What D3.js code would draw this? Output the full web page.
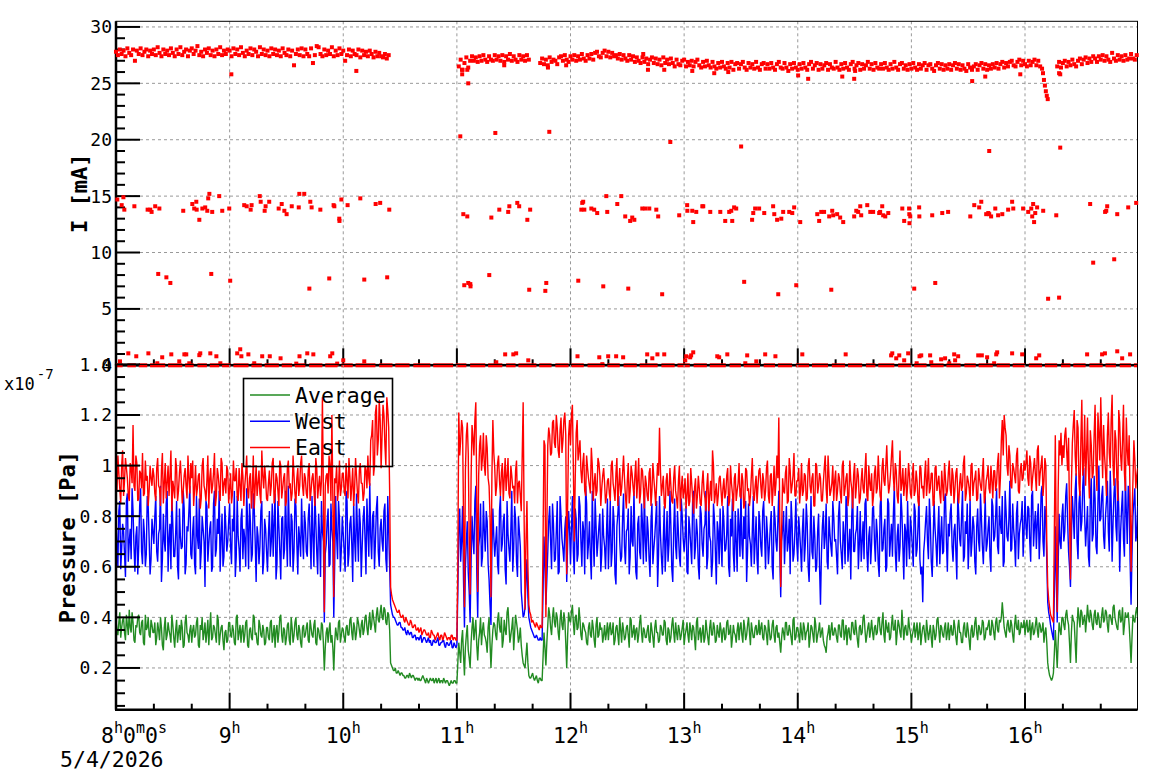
<!DOCTYPE html>
<html>
<head>
<meta charset="utf-8">
<script src="https://cdn.jsdelivr.net/npm/d3@7"></script>
<style>
  body { margin: 0; background: #fff; }
  svg { display: block; font-family: "DejaVu Sans Mono", monospace; }
</style>
</head>
<body>
<script>
// ---- data (time = minutes after 8h00, 5/4/2026) ----

// beam current I [mA], main band, one reading per minute, in tenths of mA
const bandAStart = 0;
const bandA = [
  278,275,280,276,279,274,281,277,275,280,270,279,276,281,275,278,280,274,279,276,
  280,275,282,277,274,280,276,279,275,281,277,274,280,276,282,275,278,280,274,279,
  281,276,279,283,275,278,274,280,277,281,275,279,274,280,276,282,275,279,276,280,
  279,274,281,276,280,275,282,277,274,279,276,281,275,280,278,274,282,276,280,275,
  279,274,281,276,280,275,279,274,281,277,275,280,274,279,266,276,280,275,281,274,
  280,276,274,281,268,275,283,282,276,274,280,275,279,276,282,274,279,275,281,276,
  279,270,275,280,274,279,276,275,280,273,279,275,278,274,279,276,273,278,274,277,
  274,273,276,272,275
];
const bandBStart = 181;
const bandB = [
  265,271,262,268,273,264,270,274,270,273,269,274,270,275,271,269,274,271,270,275,
  271,274,270,275,269,274,271,276,270,274,271,269,275,271,274,270,275,271
];
const bandCStart = 224;
const bandC = [
  268,272,267,271,266,273,269,271,270,267,273,274,270,275,271,269,274,271,275,270,
  274,271,276,272,270,275,272,276,271,277,278,274,273,277,279,274,278,273,277,274,
  275,272,276,271,275,272,270,275,271,274,269,273,270,268,273,269,272,267,271,273,
  268,272,267,271,266,273,268,271,267,272,268,265,271,267,266,270,271,265,269,266,
  270,265,269,271,266,264,269,265,270,266,264,269,265,263,268,264,269,265,263,268,
  264,269,262,267,268,263,267,269,264,262,268,264,267,263,269,264,262,267,268,263,
  267,263,268,264,262,267,269,264,263,268,264,261,267,263,268,264,262,267,263,268,
  264,262,267,269,263,266,268,262,267,263,266,268,262,267,264,263,269,264,262,267,
  263,268,264,262,267,269,263,266,268,262,267,263,266,269,263,267,262,268,264,263,
  267,263,268,264,262,267,263,269,264,262,267,268,263,266,262,267,263,268,264,262,
  267,263,266,268,262,266,267,263,261,266,268,263,267,262,266,263,267,262,266,268,
  263,267,262,266,263,261,267,264,262,265,267,262,266,268,263,267,262,266,263,267,
  264,268,263,267,269,264,268,265,269,270,266,265,269,271,266,270,267,265,270,266,
  269,271,266,270,265
];
const bandDStart = 497;
const bandD = [
  265,269,264,268,270,265,269,266,271,267,265,270,272,267,271,273,268,272,269,274,
  272,269,274,271,275,270,274,271,269,277,272,270,275,271,274,270,275,271,272,276,
  272,271,275
];
// the drop just before 16h15
const dropT = [489, 489.5, 490, 490.5, 491, 491.5, 492];
const dropI = [26.3, 25.9, 25.3, 24.8, 24.3, 23.9, 23.6];

// stray readings [minute, mA]
const strayPoints = [
  [0.7,14.7],[3.0,14.2],[3.9,14.9],[4.4,13.8],[9.7,14.1],[16.7,13.8],[18.1,13.8],[18.8,13.6],[20.7,14.1],[22.9,13.9],
  [35.5,13.7],[40.3,14.3],[41.3,13.9],[42.4,14.5],[42.6,13.8],[44.0,12.9],[45.6,13.9],[47.1,14.0],[48.2,13.7],[48.7,14.8],
  [49.3,15.2],[50.8,13.6],[54.5,15.0],[56.1,13.7],[59.8,13.9],[67.7,14.2],[69.0,14.1],[71.1,13.8],[71.6,14.2],[75.9,15.0],
  [76.4,14.5],[78.5,13.7],[79.0,14.1],[80.9,14.5],[85.9,13.9],[87.5,14.3],[88.9,13.7],[90.1,13.4],[92.8,14.1],[96.5,14.0],
  [96.8,15.2],[99.4,15.2],[102.6,14.5],[103.3,14.0],[107.9,13.8],[114.9,14.2],[115.3,14.1],[117.9,13.0],[118.0,12.8],[119.0,14.7],
  [122.3,14.2],[129.0,14.8],[137.1,14.3],[139.5,14.4],[144.3,13.8],[183.4,13.4],[185.5,13.2],[198.2,13.1],[202.4,13.8],[207.1,13.6],
  [207.7,14.1],[211.9,14.4],[212.9,14.1],[217.2,12.9],[218.7,13.8],[245.7,13.8],[246.2,14.4],[246.7,14.5],[247.3,13.8],[251.0,13.9],
  [252.5,13.8],[254.1,13.5],[258.9,15.0],[259.4,13.6],[264.7,14.3],[266.8,15.0],[268.9,13.2],[271.5,12.8],[272.6,13.1],[273.7,12.9],
  [277.9,13.9],[279.5,13.9],[281.6,13.9],[285.3,13.8],[286.3,13.2],[297.4,13.3],[301.6,14.2],[301.7,13.7],[304.3,13.7],[304.8,12.7],
  [306.4,13.6],[309.6,14.1],[310.1,14.1],[313.8,13.6],[319.1,13.6],[321.7,12.8],[323.8,13.6],[324.9,13.7],[325.4,12.8],[326.4,14.0],
  [327.5,13.9],[335.9,12.9],[336.5,13.5],[337.5,13.9],[339.6,13.9],[342.3,13.5],[347.0,14.1],[347.6,13.4],[349.1,12.9],[351.3,13.0],
  [352.3,13.6],[355.5,13.6],[357.1,13.5],[358.1,14.0],[361.3,12.7],[370.3,13.4],[371.3,12.8],[372.4,13.6],[373.9,13.6],[376.6,13.2],
  [378.2,13.7],[378.7,13.3],[380.8,13.4],[382.4,13.1],[384.0,12.7],[389.8,13.2],[390.9,13.7],[391.9,13.6],[393.0,14.1],[393.5,13.3],
  [396.7,14.2],[398.3,13.6],[399.8,13.6],[403.0,13.5],[403.5,13.6],[404.6,14.1],[405.1,13.3],[406.2,13.2],[407.8,13.5],[415.2,13.9],
  [416.2,12.8],[418.8,13.9],[418.9,13.4],[419.0,12.6],[419.4,13.2],[424.1,14.0],[424.2,13.2],[431.0,13.3],[436.3,13.5],[439.4,13.6],
  [451.1,13.2],[453.2,14.2],[455.8,14.0],[456.9,14.5],[459.5,13.4],[460.6,13.5],[461.1,13.4],[462.1,13.2],[464.3,13.9],[465.8,13.3],
  [468.0,13.4],[471.1,13.8],[473.2,14.5],[473.8,13.9],[479.0,13.9],[481.7,13.6],[483.3,13.9],[483.8,13.2],[484.3,14.3],[484.8,12.7],
  [485.4,13.5],[486.4,14.0],[489.6,13.7],[496.5,13.3],[514.4,14.3],[522.3,13.6],[522.9,13.7],[523.4,14.1],[528.7,13.4],[534.5,14.0],
  [538.7,14.4],
  [22.3,8.1],[26.6,7.8],[28.7,7.3],[50.3,8.1],[60.3,7.5],[102.1,6.8],[112.6,7.7],[131.1,7.6],[143.2,7.8],[183.9,7.1],
  [186.0,7.3],[187.1,7.2],[187.2,7.0],[197.1,8.0],[218.2,6.7],[226.7,6.6],[227.2,7.3],[244.1,7.5],[257.3,7.0],[270.5,6.8],
  [288.4,6.3],[331.7,7.4],[349.7,6.3],[359.2,7.1],[377.7,6.7],[421.5,6.8],[432.6,7.3],[492.2,5.9],[498.0,6.0],[516.0,9.1],
  [527.1,9.4],
  [181.8,20.3],[200.3,20.6],[228.8,20.7],[292.7,19.8],[330.1,19.4],[461.1,19.0],[498.6,19.3],
  [60.9,25.8],[126.9,26.1],[182.7,26.2],[182.8,25.8],[185.5,26.2],[186.0,25.0],[205.0,26.6],[228.1,26.4],[237.7,26.6],[278.4,27.6],
  [280.9,26.2],[289.5,26.2],[304.3,26.1],[315.9,25.9],[323.3,26.0],[360.2,25.7],[365.5,25.4],[383.5,25.6],[389.8,25.4],[390.3,26.1],
  [452.1,25.2],[459.0,25.6],[477.5,25.8],[498.0,25.9],[498.6,25.8]
];
const lowPoints = [
  [2.1,0.35],[6.5,1.06],[10.7,0.8],[17.1,1.06],[21.8,0.18],[24.4,0.71],[29.2,0.97],[33.4,0.35],[36.1,0.97],[37.1,0.97],
  [38.7,0.18],[44.0,0.9],[44.5,1.06],[49.8,1.06],[53.0,0.8],[55.1,0.18],[64.0,1.06],[65.6,1.42],[66.2,0.8],[69.9,0.97],
  [73.0,0.18],[77.2,0.8],[81.2,0.8],[86.9,0.62],[95.2,0.15],[96.9,0.8],[101.0,1.06],[104.2,0.97],[113.1,0.8],[114.2,1.06],
  [116.8,0.15],[120.0,0.44],[131.1,0.35],[200.8,0.27],[205.5,0.97],[209.8,0.97],[211.3,1.06],[217.7,0.44],[243.7,0.8],[255.2,0.71],
  [256.8,0.1],[259.9,0.8],[264.1,0.8],[267.8,0.71],[280.5,0.97],[283.2,0.62],[285.9,0.97],[289.5,0.97],[300.6,0.44],[301.1,0.8],
  [303.2,0.71],[303.7,0.88],[304.8,1.15],[317.5,0.8],[318.5,0.71],[322.8,0.97],[332.3,0.18],[333.3,0.88],[338.1,0.35],[342.8,0.97],
  [348.2,0.8],[362.4,0.97],[385.3,0.97],[409.3,0.88],[409.9,1.06],[412.0,0.62],[413.6,0.88],[416.2,0.44],[418.3,1.06],[422.8,0.18],
  [424.3,0.8],[425.2,0.88],[429.9,0.88],[430.5,0.27],[435.7,0.53],[437.8,0.62],[440.0,0.18],[442.6,0.97],[443.1,0.44],[444.7,0.8],
  [455.3,0.88],[457.2,0.88],[460.0,0.71],[463.7,0.18],[464.8,0.97],[465.3,1.15],[473.2,1.06],[478.5,0.97],[485.9,0.62],[487.5,0.88],
  [512.8,0.97],[520.7,0.97],[522.2,1.06],[528.7,1.24],[531.3,0.62],[535.5,0.97]
];
// stretches of zero readings [from, to] minutes
const zeroRuns = [
  [0,3.5],[6,10.5],[12,16.5],[18,26],[27.5,35],[36.5,41],[43,48],[49.5,54.5],[56,60.5],[62,70],[71.5,77],[78.5,86],
  [87.5,93],[94.5,100],[102,109],[110.5,117],[119,125],[126.5,137],[139,146],[147.5,155],[157,166],[167.5,178],[179.5,185],
  [187,195],[196.5,204],[206,211],[212.5,222],[223.5,230],[232,239],[240.5,247],[249,258],[259.5,266],[268,275],[276.5,286],
  [288,295],[296.5,303],[305,312],[313.5,322],[324,330],[331.5,340],[342,348],[349.5,357],[359,366],[367.5,376],[378,385],
  [386.5,394],[396,401],[402.5,411],[413,420],[421.5,428],[430,437],[438.5,446],[448,454],[455.5,463],[465,472],[473.5,480],
  [482,489],[490.5,497],[499,504],[505.5,512],[514,521],[522.5,528],[530,536],[537.5,539.4]
];

// pressure in units of 1e-9 Pa: readings on the minute ...
const east = [
  97,104,91,100,88,103,95,86,99,116,90,101,87,97,105,89,94,84,100,92,
  96,86,103,91,98,85,101,93,88,106,94,87,99,90,102,85,96,92,104,89,
  95,84,100,91,97,87,103,90,94,83,99,92,105,88,96,86,101,93,89,98,
  91,85,102,94,88,99,86,96,92,104,87,97,90,83,100,93,89,106,91,95,
  86,98,92,103,88,95,84,100,91,97,86,102,93,89,96,85,99,92,104,88,
  95,87,101,90,97,84,99,92,88,127,42,96,89,100,120,48,93,86,102,91,
  97,88,94,103,86,99,91,96,85,101,93,89,98,104,92,112,96,121,104,126,
  99,124,108,127,115,52,47,45,43,42,41,40,39,40,38,37,38,36,37,35,
  34,36,34,35,33,34,32,34,33,32,34,31,33,32,33,31,32,33,31,32,
  31,121,110,115,44,112,105,49,116,104,125,50,108,98,113,96,107,92,48,118,
  99,92,104,88,101,95,90,103,87,96,92,98,85,94,82,125,43,86,45,41,
  39,37,38,36,37,36,110,40,108,112,105,118,107,115,103,119,110,121,57,112,
  108,124,70,113,102,110,93,105,88,99,92,107,86,97,90,101,84,96,93,88,
  95,86,102,90,97,84,99,91,104,88,94,85,100,92,96,87,103,89,98,83,
  93,86,99,90,95,84,101,115,88,96,83,97,89,92,85,100,87,94,82,96,
  90,83,97,86,93,81,95,88,91,84,98,87,92,82,94,106,85,93,88,96,
  84,95,89,99,86,93,82,97,90,101,87,94,85,98,91,88,103,86,96,92,
  99,87,94,90,102,85,97,91,88,104,119,52,95,89,100,86,98,92,105,88,
  94,85,101,90,96,87,103,89,97,84,100,92,95,86,99,91,104,88,93,86,
  98,90,95,85,102,91,97,88,94,83,101,92,96,87,99,89,105,86,93,97,
  88,100,91,95,86,103,92,108,89,97,110,90,98,85,106,93,88,99,92,96,
  87,101,90,94,84,99,92,96,88,103,91,97,85,100,93,89,98,86,95,90,
  102,88,96,91,99,85,97,92,104,89,94,86,101,93,98,87,95,90,103,88,
  96,91,100,87,98,93,105,95,118,120,112,96,104,91,99,93,107,89,101,95,
  98,106,92,101,95,103,90,108,97,104,94,100,52,44,40,38,112,42,110,113,
  108,112,106,111,55,109,122,96,115,88,126,101,92,119,87,108,97,124,90,113,
  127,95,104,88,121,99,128,92,110,86,117,98,124,90,106,112,58,94,102,96
];
const west = [
  78,60,86,67,74,56,89,70,63,82,58,76,68,91,61,73,65,84,57,79,
  69,88,62,75,54,81,66,90,71,59,77,64,86,55,72,68,83,61,74,92,
  63,80,57,72,87,66,75,52,84,69,78,60,90,67,73,58,81,64,76,70,
  85,61,74,56,88,67,79,63,71,91,59,77,65,83,54,72,68,86,62,75,
  58,82,70,64,89,61,76,55,80,67,73,92,60,78,66,84,57,71,87,63,
  77,64,85,59,72,90,66,81,56,74,38,69,83,61,75,40,88,63,79,67,
  73,58,86,65,80,54,71,89,62,77,68,84,57,75,93,63,82,70,88,60,
  79,66,85,58,74,45,41,40,38,37,38,36,35,34,35,33,34,32,33,32,
  31,33,31,32,30,32,31,29,31,30,32,29,30,31,28,30,29,31,28,29,
  29,75,62,84,36,70,58,38,80,65,92,40,72,60,86,66,78,55,37,83,
  64,76,57,88,69,81,53,73,62,90,67,79,56,74,50,40,44,63,40,36,
  34,32,33,31,32,31,72,45,66,84,59,77,63,86,58,80,67,75,54,82,
  61,88,57,79,65,84,60,74,92,63,78,55,71,87,64,76,58,83,68,73,
  59,86,66,78,53,81,70,64,89,61,75,57,84,68,72,55,80,63,77,91,
  62,74,56,85,67,79,52,88,64,71,58,82,69,76,54,87,63,73,60,80,
  66,84,57,75,61,90,68,73,55,81,64,77,59,86,70,62,79,53,74,83,
  60,78,67,88,56,72,65,82,58,76,91,63,71,54,85,69,74,61,80,57,
  77,64,86,59,73,68,82,55,79,66,90,48,75,61,84,70,57,78,65,87,
  62,74,58,83,69,77,54,88,63,72,60,81,45,76,67,85,59,73,64,80,
  71,57,86,65,78,61,83,68,55,90,66,75,59,82,70,63,87,58,76,69,
  84,62,73,56,89,67,79,60,85,71,64,92,58,77,68,81,55,74,86,63,
  75,60,82,67,88,57,46,71,84,63,78,56,86,69,74,61,80,66,89,58,
  72,85,62,77,55,81,68,90,64,73,59,87,70,76,57,83,66,79,61,88,
  69,80,58,84,72,91,65,77,88,62,82,70,94,67,75,60,86,73,79,64,
  88,71,83,62,90,76,67,85,73,92,64,80,46,40,35,31,76,38,81,67,
  85,74,93,66,52,88,71,97,63,90,78,99,68,84,60,95,73,87,65,100,
  79,92,67,86,74,98,62,89,76,94,58,83,71,96,69,88,45,80,91,73
];
const average = [
  39,33,42,36,40,31,37,43,34,38,30,36,41,33,39,29,35,40,32,37,
  34,29,38,31,36,27,40,33,35,30,37,28,39,34,31,36,29,41,33,35,
  30,37,33,40,28,35,31,38,34,29,42,32,36,30,39,33,37,27,35,31,
  38,32,35,29,41,34,30,37,33,39,28,36,31,40,34,29,37,32,35,30,
  36,31,39,33,28,37,34,41,30,35,32,38,29,36,33,40,31,35,28,37,
  33,38,30,36,32,39,29,35,31,37,19,34,30,38,33,19,36,31,39,33,
  35,30,37,33,40,31,36,34,38,32,39,35,41,33,42,37,40,34,44,38,
  45,39,43,37,41,22,20,19,18,19,17,18,17,16,17,18,16,17,15,16,
  16,15,17,15,16,14,16,15,14,16,15,14,15,16,14,15,13,15,14,15,
  14,30,22,35,17,33,27,20,36,31,39,23,34,29,38,32,26,40,20,35,
  37,31,42,34,28,39,33,44,30,36,27,41,35,32,29,22,20,30,17,16,
  18,15,17,14,16,15,34,21,37,41,33,44,36,40,31,43,35,39,20,42,
  38,45,33,41,36,39,31,37,34,29,38,32,36,28,40,33,35,30,37,34,
  31,38,34,29,36,33,40,30,35,32,37,28,39,34,31,36,33,41,30,35,
  32,37,30,35,28,39,34,31,36,33,38,29,35,32,40,30,34,37,31,36,
  29,35,33,38,31,36,27,40,34,30,37,32,35,29,39,33,36,31,34,38,
  30,36,32,39,34,28,37,33,35,31,38,30,36,33,40,29,35,32,37,34,
  33,38,31,36,29,35,32,39,30,37,34,26,36,31,38,33,35,29,40,32,
  36,30,34,38,31,35,28,37,33,40,30,35,32,36,29,26,34,31,38,33,
  35,30,37,32,39,34,29,36,31,38,33,35,28,37,34,41,30,36,32,39,
  31,37,34,40,33,42,30,36,38,32,41,35,29,39,34,43,31,37,33,36,
  30,35,32,38,34,29,36,33,39,31,37,28,35,33,40,30,36,32,38,34,
  31,37,33,36,29,39,34,30,38,32,35,27,37,33,40,31,36,34,38,32,
  35,39,33,37,31,40,34,38,46,36,32,39,34,37,30,41,35,33,38,36,
  33,39,35,31,38,34,40,32,37,35,30,36,22,17,15,18,35,20,38,33,
  40,35,43,37,22,41,38,22,44,36,42,39,34,45,38,41,35,43,37,40,
  36,44,39,42,34,41,37,45,38,35,43,39,33,42,40,37,22,41,38,44
];
// ... and on the half minute
const eastHalf = [
  90,97,85,106,94,99,88,101,93,92,104,86,98,91,88,102,96,90,95,99,
  89,99,92,84,105,93,87,100,96,82,91,103,86,97,94,90,99,87,95,101,
  102,91,88,96,83,100,92,86,104,95,89,97,84,99,91,103,88,95,100,85,
  97,89,94,99,86,92,101,84,97,90,95,83,104,92,88,98,85,96,100,87,
  93,88,101,85,97,90,102,87,95,84,99,91,86,104,89,95,88,101,92,97,
  89,98,86,95,91,103,87,96,94,90,92,97,104,86,88,95,100,91,88,97,
  90,101,87,96,92,84,103,89,98,93,86,100,91,95,110,118,100,124,110,118,
  112,120,100,122,90,49,46,44,42,43,40,41,38,39,37,39,36,37,35,36,
  35,33,35,34,33,32,35,33,31,33,32,33,31,34,32,32,31,33,32,31,
  60,104,118,80,98,117,72,95,111,118,88,96,112,103,100,112,95,80,96,105,
  88,101,94,97,86,103,96,89,100,91,85,102,93,88,104,80,70,60,42,38,
  38,36,37,35,36,70,108,75,115,104,117,109,120,106,114,105,118,112,85,118,
  120,100,95,118,106,98,101,90,104,95,89,100,93,88,103,96,91,99,85,94,
  89,100,93,86,103,92,88,97,95,83,101,90,97,88,102,94,85,99,91,96,
  88,97,84,101,90,93,96,98,92,85,94,88,99,86,95,90,83,100,91,87,
  95,88,84,99,87,91,83,96,85,93,90,82,97,88,86,100,89,84,95,90,
  91,87,96,84,100,89,95,86,93,88,97,83,99,90,84,96,89,92,85,98,
  92,97,86,99,88,96,84,100,93,95,80,75,90,97,85,103,89,96,88,94,
  99,91,88,97,86,100,92,95,84,101,89,97,86,93,104,85,96,90,100,94,
  86,97,89,100,88,95,84,102,91,96,87,99,85,94,91,98,88,100,90,84,
  97,89,104,88,99,94,100,96,92,104,95,101,88,96,90,99,93,86,101,89,
  96,88,98,86,100,91,87,102,94,89,97,84,99,90,96,85,92,101,88,97,
  91,99,85,97,88,93,90,101,86,96,91,100,88,95,86,99,92,97,85,94,
  100,89,94,98,90,101,87,110,104,115,100,108,92,101,96,104,90,98,94,102,
  101,95,104,90,99,96,106,92,100,88,103,70,47,41,39,75,70,90,104,100,
  103,115,98,80,92,116,104,118,93,110,96,120,105,98,114,95,112,100,121,102,
  110,116,98,112,105,118,100,114,95,122,104,110,97,119,100,85,80,110,91,99
];
const westHalf = [
  70,82,59,77,65,86,62,75,91,68,72,57,84,66,79,60,88,71,63,74,
  80,66,73,92,63,70,85,58,77,88,64,73,60,83,67,90,57,76,82,65,
  74,61,88,67,59,80,70,86,62,75,58,85,64,79,90,71,60,84,66,78,
  68,79,90,64,72,58,83,75,60,77,85,62,89,70,76,61,82,57,79,66,
  73,64,85,78,55,86,66,79,63,90,60,75,81,58,87,69,76,64,72,82,
  66,79,72,88,60,78,57,73,86,70,65,78,60,85,70,62,72,86,58,80,
  66,90,60,77,69,85,62,74,83,56,79,71,87,64,72,80,59,83,66,75,
  70,82,63,88,60,43,40,39,37,38,36,35,36,33,34,34,32,33,31,32,
  32,30,32,31,31,30,29,31,30,31,29,30,31,29,30,29,30,28,30,28,
  50,83,70,55,60,78,50,62,71,86,58,68,85,64,74,82,61,45,66,72,
  70,61,82,66,78,59,86,67,75,58,84,62,80,68,45,41,55,48,38,35,
  33,32,32,31,31,50,60,55,78,70,85,62,74,57,88,71,62,80,70,75,
  75,66,83,62,88,70,78,57,85,69,64,90,60,76,70,81,65,72,59,87,
  72,60,84,57,76,88,62,79,68,74,83,64,70,90,58,77,66,85,61,70,
  80,63,78,61,72,86,65,73,57,84,70,62,90,59,75,68,82,64,87,71,
  72,58,80,68,87,63,79,60,84,69,75,90,64,72,56,85,66,78,61,70,
  84,66,73,60,79,87,58,70,83,64,69,80,86,66,72,60,88,70,63,82,
  68,82,72,80,61,76,60,84,70,78,65,70,82,73,66,79,86,62,74,69,
  80,67,75,62,85,60,71,66,80,58,74,60,65,82,72,62,80,68,86,70,
  64,80,70,59,72,88,62,75,80,66,73,84,69,62,78,85,66,72,61,83,
  70,79,61,84,66,75,58,87,64,77,81,66,72,62,89,68,77,60,71,80,
  68,85,64,76,63,60,66,78,70,87,62,71,75,60,84,72,65,87,70,77,
  81,68,74,66,89,71,80,62,78,85,70,64,80,62,76,70,89,68,74,66,
  75,64,87,70,80,68,84,73,60,90,72,79,66,85,70,81,63,77,86,74,
  76,84,70,88,68,82,78,63,89,70,84,62,42,37,33,50,55,60,70,80,
  70,88,78,60,72,80,90,70,85,74,92,80,76,64,88,70,96,68,85,78,
  88,72,80,94,66,85,78,95,70,83,74,90,64,82,92,62,65,86,70,84
];
const averageHalf = [
  35,38,32,39,34,41,33,36,42,31,37,40,34,38,30,41,36,33,39,34,
  38,32,35,40,29,36,31,38,33,41,32,35,30,37,39,28,38,34,30,37,
  35,32,38,29,37,40,34,30,39,36,31,37,33,41,29,36,31,34,30,38,
  33,37,30,40,31,37,35,30,38,29,35,32,41,33,30,39,33,37,29,36,
  32,38,30,37,35,30,40,33,36,29,37,31,40,30,38,33,37,30,36,32,
  36,31,39,33,37,30,36,32,38,30,28,36,35,30,28,30,33,38,30,36,
  32,36,33,39,34,38,31,40,35,37,33,40,36,38,35,43,37,41,39,42,
  40,44,38,42,35,21,19,20,18,18,18,17,16,17,16,17,17,16,16,15,
  15,16,16,14,15,15,15,16,15,14,16,15,14,15,15,14,14,14,15,14,
  22,26,31,25,28,37,24,30,40,35,29,31,40,35,33,30,36,30,29,38,
  33,39,36,40,31,35,42,37,33,40,34,38,30,36,25,21,25,22,16,17,
  16,16,15,16,15,24,28,30,44,36,40,38,42,34,39,37,42,30,33,39,
  42,38,40,35,44,33,38,35,30,36,33,39,31,37,32,38,36,33,31,38,
  36,33,38,31,37,29,35,38,31,36,33,40,32,37,35,30,38,34,36,32,
  35,31,38,32,36,34,30,37,33,39,31,36,30,37,34,38,31,35,33,39,
  33,38,30,35,37,32,38,31,36,34,30,39,32,36,33,38,30,37,32,35,
  35,31,38,33,37,32,34,30,38,36,33,39,31,37,34,38,32,36,33,39,
  36,32,37,33,39,31,37,33,36,32,30,32,34,38,33,37,32,39,31,36,
  33,38,31,36,34,38,32,36,30,37,33,38,34,31,28,32,37,35,33,36,
  32,37,33,39,31,37,35,32,38,34,39,31,36,33,40,35,33,38,35,34,
  36,33,40,35,38,33,39,34,31,37,35,39,34,37,32,37,36,33,40,34,
  33,38,35,31,38,33,37,30,35,34,32,37,31,39,35,37,33,36,31,38,
  35,33,39,32,36,34,30,36,33,38,31,35,32,38,34,37,33,39,31,36,
  37,33,39,34,38,35,39,40,41,34,37,35,39,33,37,36,39,34,36,39,
  37,34,39,36,33,37,35,38,34,38,34,30,19,16,16,26,28,30,35,40,
  37,41,39,30,34,39,30,36,40,43,37,41,39,40,43,37,41,38,42,36,
  41,38,43,37,41,39,44,40,36,42,38,44,37,40,42,30,32,39,42,40
];

const seriesNames = ["Average", "West", "East"];
const seriesColors = ["#228b22", "#0000ff", "#ff0000"];

// ---- layout ----
const W = 1158, H = 782;
const L = 116, R = 1137.5;
const topPad = {y0: 21.3, y1: 365.3};
const botPad = {y0: 364.4, y1: 709.7};

const svg = d3.select("body").append("svg").attr("width", W).attr("height", H);

const x = d3.scaleLinear().domain([0, 539.4]).range([L, R]);
const yI = d3.scaleLinear().domain([0, 30.5]).range([topPad.y1, topPad.y0]);
const yP = d3.scaleLinear().domain([0.035, 1.4]).range([botPad.y1, botPad.y0]);

const hours = d3.range(0, 540, 60);
const minorMin = d3.range(0, 540, 20).filter(t => t % 60 !== 0);

function drawFrame(pad, y, majors) {
  const g = svg.append("g");
  // dashed grid
  g.selectAll(".gh").data(majors.filter(v => y(v) > pad.y0 + 1 && y(v) < pad.y1 - 1)).enter()
    .append("line")
    .attr("x1", L).attr("x2", R).attr("y1", d => y(d)).attr("y2", d => y(d))
    .attr("stroke", "#999").attr("stroke-dasharray", "3,3");
  g.selectAll(".gv").data(hours.slice(1)).enter()
    .append("line")
    .attr("x1", d => x(d)).attr("x2", d => x(d)).attr("y1", pad.y0).attr("y2", pad.y1)
    .attr("stroke", "#999").attr("stroke-dasharray", "3,3");
  g.append("rect").attr("x", L).attr("y", pad.y0).attr("width", R - L).attr("height", pad.y1 - pad.y0)
    .attr("fill", "none").attr("stroke", "#000").attr("stroke-width", 1);
}

function drawAxes(pad, y, majors, minors, fmt) {
  const g = svg.append("g").attr("stroke", "#000");
  g.append("line").attr("x1", L).attr("x2", L).attr("y1", pad.y0).attr("y2", pad.y1).attr("stroke-width", 2.5);
  g.append("line").attr("x1", L - 1).attr("x2", R).attr("y1", pad.y1).attr("y2", pad.y1).attr("stroke-width", 2.5);
  g.selectAll(".ym").data(majors).enter().append("line")
    .attr("x1", L).attr("x2", L + 24).attr("y1", d => y(d)).attr("y2", d => y(d)).attr("stroke-width", 2);
  g.selectAll(".yn").data(minors).enter().append("line")
    .attr("x1", L).attr("x2", L + 9).attr("y1", d => y(d)).attr("y2", d => y(d)).attr("stroke-width", 2);
  g.selectAll(".xm").data(hours).enter().append("line")
    .attr("x1", d => x(d)).attr("x2", d => x(d)).attr("y1", pad.y1).attr("y2", pad.y1 - 17).attr("stroke-width", 2);
  g.selectAll(".xn").data(minorMin).enter().append("line")
    .attr("x1", d => x(d)).attr("x2", d => x(d)).attr("y1", pad.y1).attr("y2", pad.y1 - 6).attr("stroke-width", 2);
  svg.append("g").selectAll("text").data(majors).enter().append("text")
    .attr("x", 112).attr("y", d => y(d)).attr("dy", "0.36em")
    .attr("text-anchor", "end").attr("font-size", 18).text(fmt);
}

// ---- top pad: current ----
const iMaj = d3.range(0, 31, 5);
const iMin = d3.range(1, 31, 1).filter(v => v % 5 !== 0);
drawFrame(topPad, yI, iMaj);

const bandPts = [];
[[bandAStart, bandA], [bandBStart, bandB], [bandCStart, bandC], [bandDStart, bandD]].forEach(([s, arr]) => {
  arr.forEach((v, i) => bandPts.push([s + i, v / 10]));
});
dropT.forEach((t, i) => bandPts.push([t, dropI[i]]));
const allPts = bandPts.concat(strayPoints, lowPoints);

drawAxes(topPad, yI, iMaj, iMin, d => d);

svg.append("g").selectAll("rect").data(zeroRuns).enter().append("rect")
  .attr("x", d => x(d[0])).attr("width", d => x(d[1]) - x(d[0]))
  .attr("y", yI(0) - 2).attr("height", 4).attr("fill", "#ff0000");
svg.append("g").selectAll("rect").data(allPts).enter().append("rect")
  .attr("x", d => x(d[0]) - 2).attr("y", d => yI(d[1]) - 2)
  .attr("width", 4).attr("height", 4).attr("fill", "#ff0000");

svg.append("text")
  .attr("transform", `translate(87,${(topPad.y0 + topPad.y1) / 2}) rotate(-90)`)
  .attr("text-anchor", "middle").attr("font-size", 22).attr("font-weight", "bold")
  .text("I [mA]");

// ---- bottom pad: pressure ----
const pMaj = [0.2, 0.4, 0.6, 0.8, 1.0, 1.2, 1.4];
const pMin = d3.range(1, 28).map(k => k * 0.05).filter(v => Math.abs(v * 5 - Math.round(v * 5)) > 1e-6);
drawFrame(botPad, yP, pMaj);

svg.append("clipPath").attr("id", "clipP").append("rect")
  .attr("x", L).attr("y", botPad.y0).attr("width", R - L).attr("height", botPad.y1 - botPad.y0);

function merge(onMin, onHalf) {
  const out = [];
  onMin.forEach((v, i) => { out.push([i, v]); out.push([i + 0.5, onHalf[i]]); });
  return out;
}
const series = [merge(average, averageHalf), merge(west, westHalf), merge(east, eastHalf)];

const line = d3.line().x(d => x(d[0])).y(d => yP(d[1] / 100));
const gLines = svg.append("g").attr("clip-path", "url(#clipP)");
series.forEach((s, k) => {
  gLines.append("path").datum(s).attr("d", line)
    .attr("fill", "none").attr("stroke", seriesColors[k])
    .attr("stroke-width", 1.4).attr("stroke-linejoin", "bevel");
});

drawAxes(botPad, yP, pMaj, pMin, d => String(+d.toFixed(1)));

svg.append("text")
  .attr("transform", `translate(75,${(botPad.y0 + botPad.y1) / 2}) rotate(-90)`)
  .attr("text-anchor", "middle").attr("font-size", 22).attr("font-weight", "bold")
  .text("Pressure [Pa]");

const expo = svg.append("text").attr("x", 4).attr("y", 390).attr("font-size", 17);
expo.append("tspan").text("x10");
expo.append("tspan").attr("dx", 2).attr("dy", -11).attr("font-size", 14).text("-7");

// time labels
const xl = svg.append("g").attr("font-size", 21.5);
hours.slice(1).forEach(t => {
  const tx = xl.append("text").attr("x", x(t)).attr("y", 743).attr("text-anchor", "middle");
  tx.append("tspan").text(8 + t / 60);
  tx.append("tspan").attr("dy", -10).attr("font-size", 15).text("h");
});
const t0 = xl.append("text").attr("x", 101).attr("y", 743);
[["8", "h"], ["0", "m"], ["0", "s"]].forEach(([n, u]) => {
  t0.append("tspan").attr("dy", 10).text(n);
  t0.append("tspan").attr("dy", -10).attr("font-size", 15).text(u);
});
t0.select("tspan").attr("dy", 0);
xl.append("text").attr("x", 60).attr("y", 767).text("5/4/2026");

// legend
const lg = svg.append("g");
lg.append("rect").attr("x", 243.5).attr("y", 378.5).attr("width", 149).attr("height", 88)
  .attr("fill", "none").attr("stroke", "#000").attr("stroke-width", 1.6);
seriesNames.forEach((n, k) => {
  const yy = 395 + k * 26.2;
  lg.append("line").attr("x1", 250).attr("x2", 290).attr("y1", yy).attr("y2", yy)
    .attr("stroke", seriesColors[k]).attr("stroke-width", 1.5);
  lg.append("text").attr("x", 295).attr("y", yy).attr("dy", "0.36em").attr("font-size", 21.5).text(n);
});
</script>
</body>
</html>
